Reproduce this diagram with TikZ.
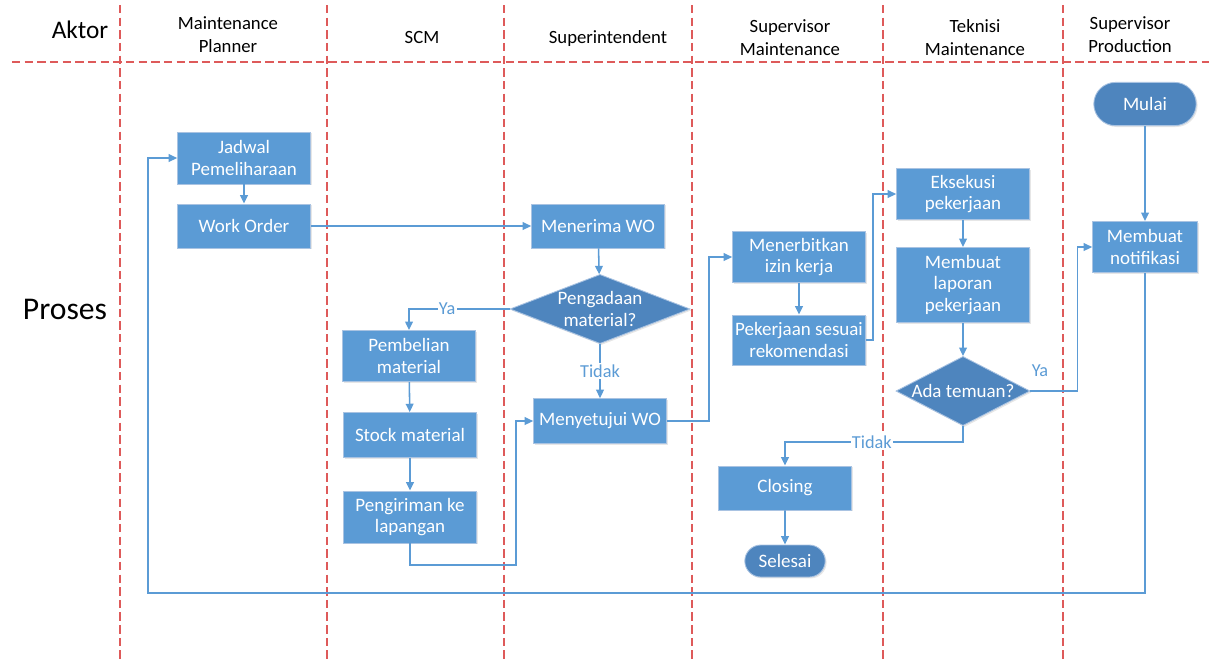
\documentclass[tikz,border=0pt]{standalone}
\usepackage{fontspec}
\setmainfont{Carlito}
\usetikzlibrary{positioning,arrows.meta,shapes.geometric,shapes.misc,shadows}

\definecolor{boxblue}{HTML}{5B9BD5}
\definecolor{darkblue}{HTML}{4E85BE}
\definecolor{edgeblue}{HTML}{A9C3E2}
\definecolor{lanered}{HTML}{DE5A5A}

\tikzset{
  lane/.style={draw=lanered,line width=0.8pt,dash pattern=on 6pt off 3pt},
  head/.style={align=center,font=\fontsize{13.3}{16.3}\selectfont},
  box/.style={rectangle,fill=boxblue,draw=edgeblue,line width=0.6pt,text=white,align=center,
    minimum width=3.32cm,inner sep=1pt,font=\fontsize{13.5}{15.6}\selectfont,
    drop shadow={shadow xshift=1pt,shadow yshift=-1pt,opacity=0.2}},
  decision/.style={diamond,fill=darkblue,draw=edgeblue,line width=0.6pt,inner sep=0pt,
    drop shadow={shadow xshift=1pt,shadow yshift=-1pt,opacity=0.2}},
  dtext/.style={text=white,align=center,font=\fontsize{13.5}{15.6}\selectfont},
  terminal/.style={rounded rectangle,fill=darkblue,draw=edgeblue,line width=0.6pt,text=white,
    inner sep=1pt,font=\fontsize{13.5}{15.6}\selectfont,
    drop shadow={shadow xshift=1pt,shadow yshift=-1pt,opacity=0.2}},
  flow/.style={draw=boxblue,line width=1.1pt,->},
  lbl/.style={text=boxblue,fill=white,inner sep=1pt,font=\fontsize{13}{15}\selectfont},
}

\begin{document}
\begin{tikzpicture}[x=0.025cm,y=-0.025cm,>={Triangle[length=6pt,width=5.5pt]}]
  \useasboundingbox (0,0) rectangle (1209,660);
  % garis lajur
  \foreach \x in {120,327,504,692,883,1063} {\draw[lane] (\x,5) -- (\x,660);}
  \draw[lane] (12,62) -- (1209,62);
  % judul lajur
  \node[font=\fontsize{18}{21}\selectfont] (aktor) at (80,30) {Aktor};
  \node[head] (hplanner) at (228,35) {Maintenance\\Planner};
  \node[head] (hscm) at (422,37) {SCM};
  \node[head] (hsuper) at (608,39) {Superintendent};
  \node[head] (hspvm) at (790,38) {Supervisor\\Maintenance};
  \node[head] (hteknisi) at (975,38) {Teknisi\\Maintenance};
  \node[head] (hspvp) at (1130,35) {Supervisor\\Production};
  \node[font=\fontsize{22.5}{26}\selectfont] (proses) at (65,309) {Proses};

  % Maintenance Planner
  \node[box,minimum height=1.3cm] (jadwal) at (244,158) {Jadwal\\Pemeliharaan};
  \node[box,minimum height=1.1cm] (wo) at (244,226) {Work Order};
  % SCM
  \node[box,minimum height=1.28cm] (beli) at (409,356) {Pembelian\\material};
  \node[box,minimum height=1.12cm] (stock) at (410,435) {Stock material};
  \node[box,minimum height=1.3cm] (kirim) at (410,517) {Pengiriman ke\\lapangan};
  % Superintendent
  \node[box,minimum height=1.1cm] (terima) at (598,226) {Menerima WO};
  \node[decision,minimum width=4.5cm,minimum height=1.73cm] (adaan) at (600,309) {};
  \node[dtext] (adaantxt) at (adaan) {Pengadaan\\material?};
  \node[box,minimum height=1.12cm] (setuju) at (600,421) {Menyetujui WO};
  % Supervisor Maintenance
  \node[box,minimum height=1.28cm] (terbit) at (799,257) {Menerbitkan\\izin kerja};
  \node[box,minimum height=1.25cm] (sesuai) at (799,340) {Pekerjaan sesuai\\rekomendasi};
  \node[box,minimum height=1.1cm] (closing) at (785,488) {Closing};
  \node[terminal,minimum width=2.08cm,minimum height=0.8cm] (selesai) at (785,561) {Selesai};
  % Teknisi Maintenance
  \node[box,minimum height=1.28cm] (eksekusi) at (963,194) {Eksekusi\\pekerjaan};
  \node[box,minimum height=1.88cm] (laporan) at (963,285) {Membuat\\laporan\\pekerjaan};
  \node[decision,minimum width=3.35cm,minimum height=1.73cm] (temuan) at (963,391) {};
  \node[dtext] (temuantxt) at (temuan) {Ada temuan?};
  % Supervisor Production
  \node[terminal,minimum width=2.63cm,minimum height=1.08cm] (mulai) at (1145,104) {Mulai};
  \node[box,minimum width=2.62cm,minimum height=1.28cm] (notif) at (1145,247) {Membuat\\notifikasi};

  % alur
  \draw[flow] (mulai) -- (notif);
  \draw[flow] (notif.south) |- (148,593) |- (jadwal.west);
  \draw[flow] (jadwal) -- (wo);
  \draw[flow] (wo) -- (terima);
  \draw[flow] (terima) -- (adaan);
  \draw[flow] (adaan) -- node[lbl]{Tidak} (setuju);
  \draw[flow] (adaan.west) -| node[lbl,pos=0.31]{Ya} (beli.north);
  \draw[flow] (beli) -- (stock);
  \draw[flow] (stock) -- (kirim);
  \draw[flow] (kirim.south) |- (516,565) |- (setuju.west);
  \draw[flow] (setuju.east) -- ++(42,0) |- (terbit.west);
  \draw[flow] (terbit) -- (sesuai);
  \draw[flow] (sesuai.east) -- ++(7,0) |- (eksekusi.west);
  \draw[flow] (eksekusi) -- (laporan);
  \draw[flow] (laporan) -- (temuan);
  \draw[flow] (temuan.east) -- ++(47,0) |- (notif.west);
  \node[text=boxblue,font=\fontsize{13}{15}\selectfont] (ya2) at (1040,371) {Ya};
  \draw[flow] (temuan.south) -- ++(0,16) -| node[lbl,pos=0.256]{Tidak} (closing.north);
  \draw[flow] (closing) -- (selesai);
\end{tikzpicture}
\end{document}
